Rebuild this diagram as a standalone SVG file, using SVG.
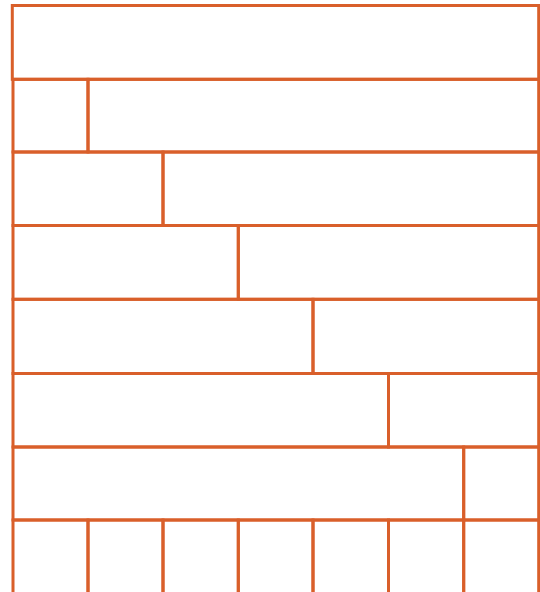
<svg xmlns="http://www.w3.org/2000/svg" width="540" height="592" viewBox="0 0 540 592">
<style>
rect{fill:none;stroke:#D95F2A;stroke-width:3}
</style>
<rect x="0" y="0" width="540" height="592" style="fill:#fff;stroke:none"/>
<g id="row0"><rect x="12.3" y="5.5" width="526.4" height="73.8"/></g>
<g id="row1"><rect x="13" y="79.3" width="75" height="72.7"/><rect x="88" y="79.3" width="450.7" height="72.7"/></g>
<g id="row2"><rect x="13" y="152" width="150" height="73.5"/><rect x="163" y="152" width="375.7" height="73.5"/></g>
<g id="row3"><rect x="13" y="225.5" width="225.3" height="73.8"/><rect x="238.3" y="225.5" width="300.4" height="73.8"/></g>
<g id="row4"><rect x="13" y="299.3" width="300" height="74.2"/><rect x="313" y="299.3" width="225.7" height="74.2"/></g>
<g id="row5"><rect x="13" y="373.5" width="375.5" height="73.5"/><rect x="388.5" y="373.5" width="150.2" height="73.5"/></g>
<g id="row6"><rect x="13" y="447" width="450.7" height="73"/><rect x="463.7" y="447" width="75" height="73"/></g>
<g id="row7">
<rect x="13" y="520" width="75" height="73.5"/><rect x="88" y="520" width="75" height="73.5"/><rect x="163" y="520" width="75.3" height="73.5"/><rect x="238.3" y="520" width="74.7" height="73.5"/><rect x="313" y="520" width="75.5" height="73.5"/><rect x="388.5" y="520" width="75.2" height="73.5"/><rect x="463.7" y="520" width="75" height="73.5"/>
</g>
</svg>
